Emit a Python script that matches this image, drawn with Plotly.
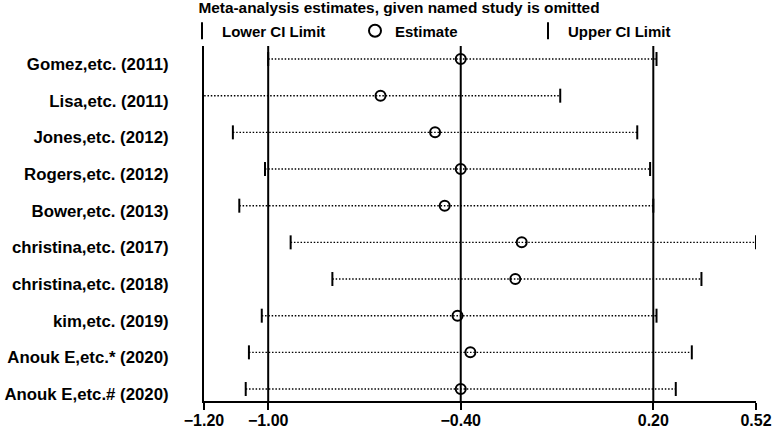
import plotly.graph_objects as go

studies = ["Gomez,etc. (2011)", "Lisa,etc. (2011)", "Jones,etc. (2012)", "Rogers,etc. (2012)",
           "Bower,etc. (2013)", "christina,etc. (2017)", "christina,etc. (2018)", "kim,etc. (2019)",
           "Anouk E,etc.* (2020)", "Anouk E,etc.# (2020)"]
estimate = [-0.40, -0.65, -0.48, -0.40, -0.45, -0.21, -0.23, -0.41, -0.37, -0.40]
lower_ci = [-1.00, -1.22, -1.11, -1.01, -1.09, -0.93, -0.80, -1.02, -1.06, -1.07]
upper_ci = [0.21, -0.09, 0.15, 0.19, 0.20, 0.52, 0.35, 0.21, 0.32, 0.27]
x_ticks = [-1.20, -1.00, -0.40, 0.20, 0.52]
ref_lines = [-1.00, -0.40, 0.20]

rows = list(range(1, len(studies) + 1))
FONT = "Arial, Liberation Sans, sans-serif"

fig = go.Figure()

# dotted CI lines
lx, ly = [], []
for lo, hi, r in zip(lower_ci, upper_ci, rows):
    lx += [lo, hi, None]
    ly += [r, r, None]
fig.add_trace(go.Scatter(x=lx, y=ly, mode="lines", showlegend=False,
                         line=dict(color="black", width=1.4, dash="1.5px,1.8px"), hoverinfo="skip"))

fig.add_trace(go.Scatter(x=lower_ci, y=rows, mode="markers", name="<b>Lower CI Limit</b>",
                         marker=dict(symbol="line-ns", size=10, line=dict(color="black", width=2))))
fig.add_trace(go.Scatter(x=estimate, y=rows, mode="markers", name="<b>Estimate</b>",
                         marker=dict(symbol="circle-open", size=10, color="black",
                                     line=dict(color="black", width=2))))
fig.add_trace(go.Scatter(x=upper_ci, y=rows, mode="markers", name="<b>Upper CI Limit</b>",
                         marker=dict(symbol="line-ns", size=10, line=dict(color="black", width=2))))

for v in ref_lines:
    fig.add_shape(type="line", xref="x", yref="paper", x0=v, x1=v, y0=0, y1=1,
                  line=dict(color="black", width=2), layer="above")

fig.update_layout(
    width=777, height=429,
    margin=dict(l=204, r=21, t=46, b=28, autoexpand=False),
    paper_bgcolor="white", plot_bgcolor="white",
    font=dict(family=FONT, color="black", size=15),
    title=dict(text="<b>Meta-analysis estimates, given named study is omitted</b>",
               x=399 / 777, xanchor="center", xref="container",
               y=1 - 8 / 429, yanchor="middle", yref="container",
               font=dict(size=15.4, family=FONT, color="black")),
    legend=dict(orientation="h", x=182 / 777, xanchor="left", xref="container",
                y=1 - 31 / 429, yanchor="middle", yref="container",
                entrywidth=128, entrywidthmode="pixels",
                font=dict(size=15, family=FONT, color="black"),
                bgcolor="rgba(0,0,0,0)", itemsizing="constant"),
    xaxis=dict(range=[-1.20, 0.52], tickvals=x_ticks, tickformat=".2f", automargin=False,
               showgrid=False, zeroline=False, showline=True, linecolor="black", linewidth=2,
               ticks="outside", ticklen=7, tickwidth=2, tickcolor="black",
               ticklabelstandoff=-3,
               tickfont=dict(size=16, family=FONT, color="black", weight="bold")),
    yaxis=dict(range=[10.327, 0.645], tickvals=rows, automargin=False,
               ticktext=studies,
               showgrid=False, zeroline=False, showline=True, linecolor="black", linewidth=2,
               ticks="", ticklabelstandoff=30, ticklabelshift=-5,
               tickfont=dict(size=16.8, family=FONT, color="black", weight="bold")),
)

fig.write_html("out.html", config={"displayModeBar": False},
               post_script="document.body.style.margin='0px';")
